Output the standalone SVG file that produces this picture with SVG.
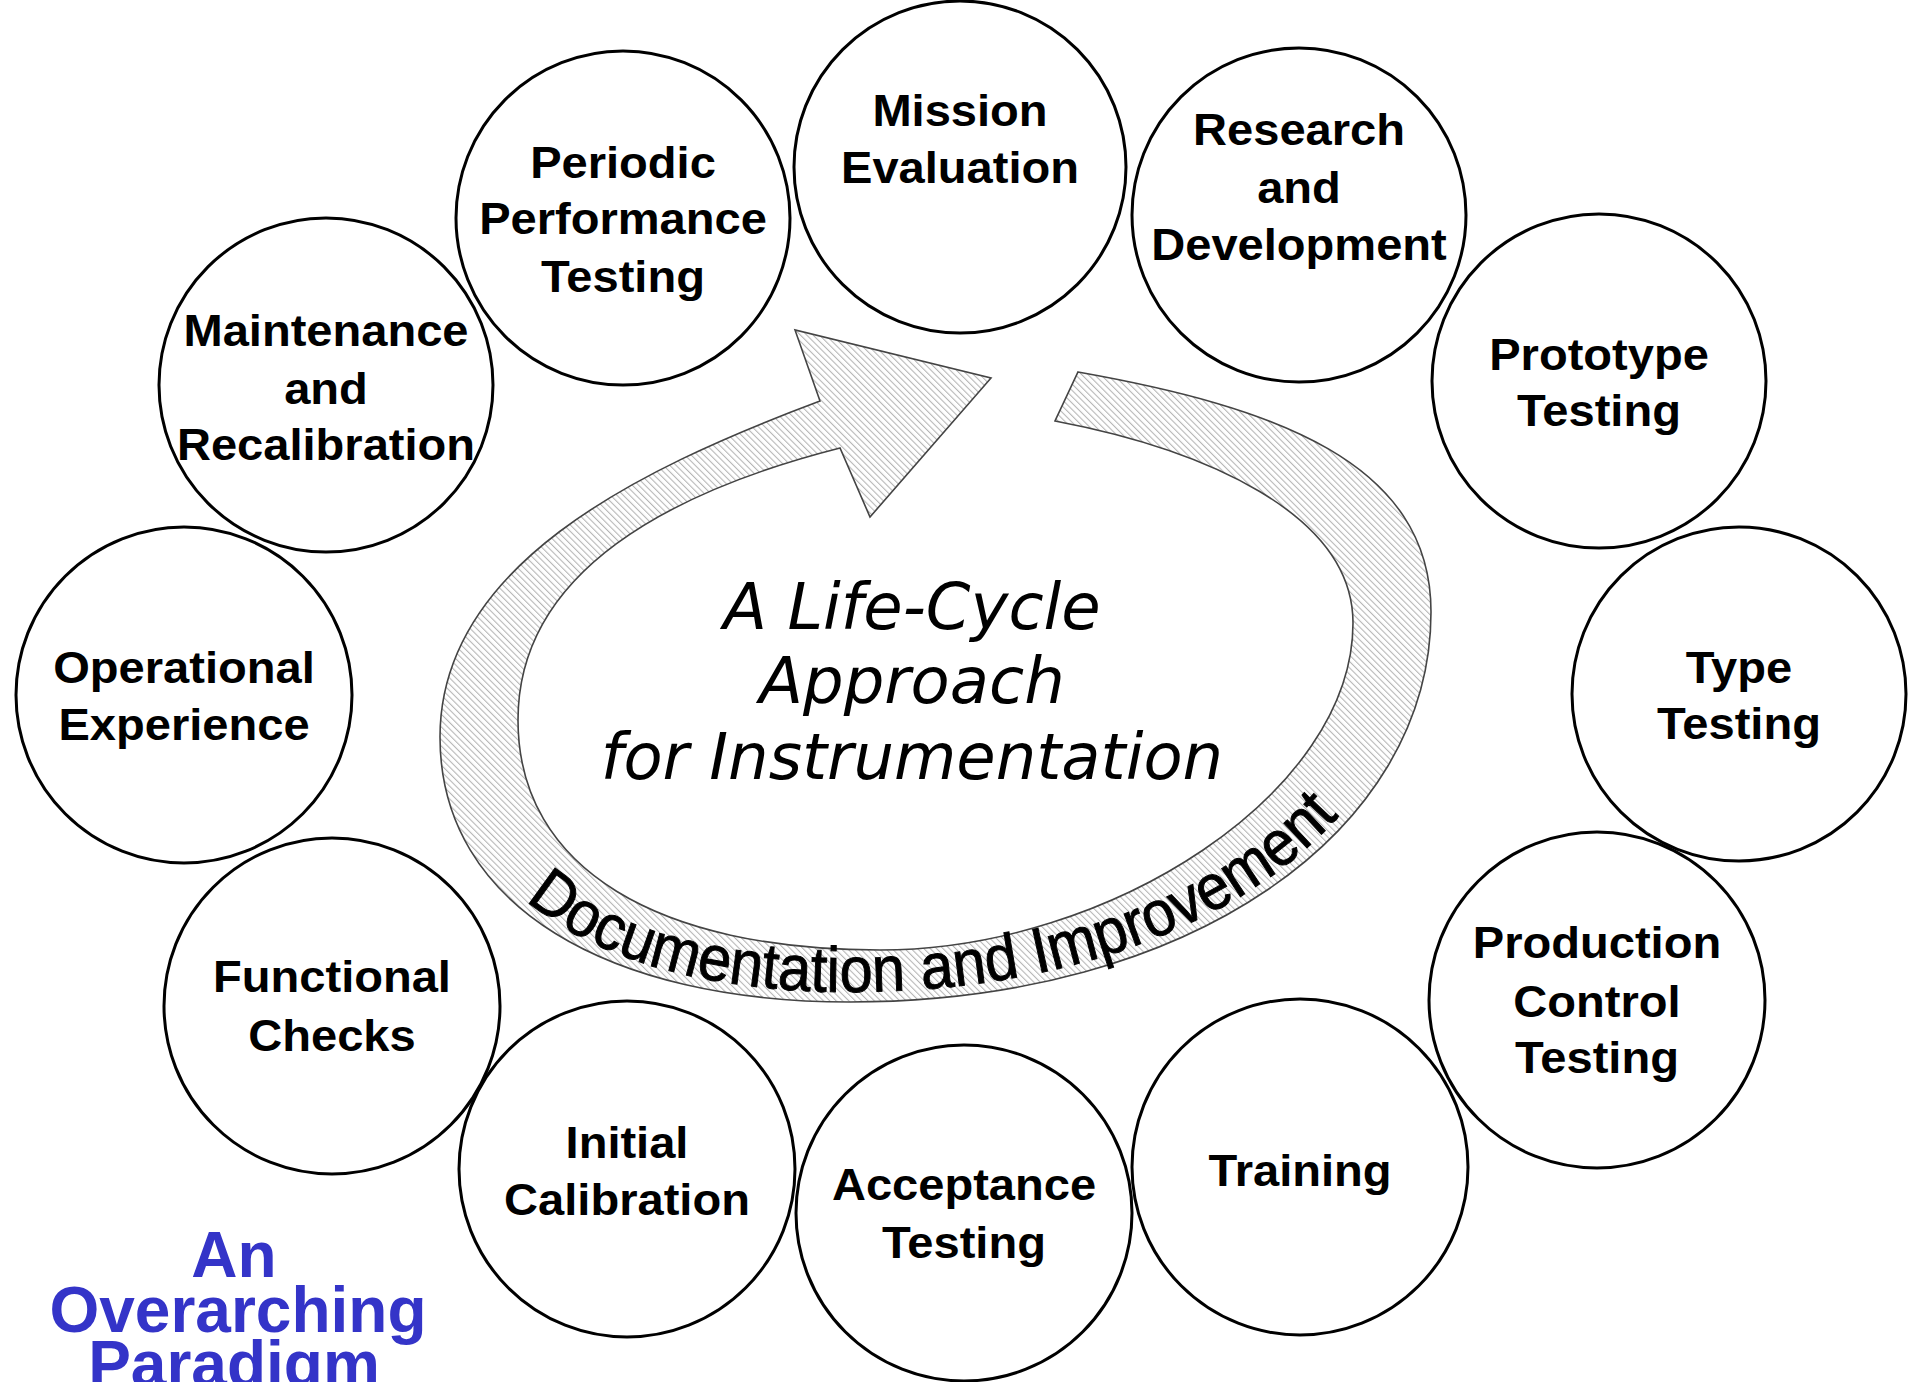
<svg xmlns="http://www.w3.org/2000/svg" width="1911" height="1382" viewBox="0 0 1911 1382">
<style>
.c{fill:none;stroke:#000;stroke-width:3}
.t{font-family:"Liberation Sans",Arial,sans-serif;font-weight:bold;font-size:44px;fill:#000;text-anchor:middle}
.mid{font-family:"DejaVu Sans",Verdana,sans-serif;font-style:italic;font-size:64px;fill:#000;text-anchor:middle}
.doc{font-family:"Liberation Sans",Arial,sans-serif;font-size:64px;fill:#000;stroke:#000;stroke-width:1}
.blue{font-family:"Liberation Sans",Arial,sans-serif;font-weight:bold;font-size:64px;fill:#3434c8;text-anchor:middle}
</style>
<defs>
<pattern id="hatch" width="4.5" height="4.5" patternUnits="userSpaceOnUse" patternTransform="rotate(-45)">
<rect width="4.5" height="4.5" fill="#fff"/>
<line x1="0.6" y1="0" x2="0.6" y2="4.5" stroke="#a8a8a8" stroke-width="0.9"/>
</pattern>
<path id="docpath" d="M450,737 C450,900 612,992 850,992 C1185,992 1421,828 1421,612"/>
</defs>
<rect width="1911" height="1382" fill="#fff"/>
<g id="connectors">
<path id="lifecycle-arrow" d="M1078,372 C1275,407 1431,462 1431,612 C1431,832 1190,1002 850,1002 C610,1002 440,907 440,737 C440,567 632.6,471 820,401 L795,330 L991,378 L870,517 L840,448 C673.4,490.5 518,570 518,720 C518,870 660,950 880,950 C1110,950 1353,793 1353,623 C1353,513 1202.3,449 1055,421 Z" fill="url(#hatch)" stroke="#444" stroke-width="1.6" stroke-linejoin="miter"/>
<text class="doc"><textPath href="#docpath" startOffset="186" textLength="878" lengthAdjust="spacingAndGlyphs">Documentation and Improvement</textPath></text>
</g>
<g id="title">
<text class="mid" x="912" y="629">A Life-Cycle</text>
<text class="mid" x="912" y="703">Approach</text>
<text class="mid" x="912" y="779">for Instrumentation</text>
</g>
<g id="node-mission"><circle class="c" cx="960" cy="167" r="166"/>
<text class="t" transform="translate(960 0) scale(1.07 1)" y="126">Mission</text>
<text class="t" transform="translate(960 0) scale(1.07 1)" y="183">Evaluation</text></g>
<g id="node-periodic"><circle class="c" cx="623" cy="218" r="167"/>
<text class="t" transform="translate(623 0) scale(1.07 1)" y="178">Periodic</text>
<text class="t" transform="translate(623 0) scale(1.07 1)" y="234">Performance</text>
<text class="t" transform="translate(623 0) scale(1.07 1)" y="292">Testing</text></g>
<g id="node-research"><circle class="c" cx="1299" cy="215" r="167"/>
<text class="t" transform="translate(1299 0) scale(1.07 1)" y="145">Research</text>
<text class="t" transform="translate(1299 0) scale(1.07 1)" y="203">and</text>
<text class="t" transform="translate(1299 0) scale(1.07 1)" y="260">Development</text></g>
<g id="node-maintenance"><circle class="c" cx="326" cy="385" r="167"/>
<text class="t" transform="translate(326 0) scale(1.07 1)" y="346">Maintenance</text>
<text class="t" transform="translate(326 0) scale(1.07 1)" y="404">and</text>
<text class="t" transform="translate(326 0) scale(1.07 1)" y="460">Recalibration</text></g>
<g id="node-prototype"><circle class="c" cx="1599" cy="381" r="167"/>
<text class="t" transform="translate(1599 0) scale(1.07 1)" y="370">Prototype</text>
<text class="t" transform="translate(1599 0) scale(1.07 1)" y="426">Testing</text></g>
<g id="node-operational"><circle class="c" cx="184" cy="695" r="168"/>
<text class="t" transform="translate(184 0) scale(1.07 1)" y="683">Operational</text>
<text class="t" transform="translate(184 0) scale(1.07 1)" y="740">Experience</text></g>
<g id="node-type"><circle class="c" cx="1739" cy="694" r="167"/>
<text class="t" transform="translate(1739 0) scale(1.07 1)" y="683">Type</text>
<text class="t" transform="translate(1739 0) scale(1.07 1)" y="739">Testing</text></g>
<g id="node-functional"><circle class="c" cx="332" cy="1006" r="168"/>
<text class="t" transform="translate(332 0) scale(1.07 1)" y="992">Functional</text>
<text class="t" transform="translate(332 0) scale(1.07 1)" y="1051">Checks</text></g>
<g id="node-production"><circle class="c" cx="1597" cy="1000" r="168"/>
<text class="t" transform="translate(1597 0) scale(1.07 1)" y="958">Production</text>
<text class="t" transform="translate(1597 0) scale(1.07 1)" y="1017">Control</text>
<text class="t" transform="translate(1597 0) scale(1.07 1)" y="1073">Testing</text></g>
<g id="node-initial"><circle class="c" cx="627" cy="1169" r="168"/>
<text class="t" transform="translate(627 0) scale(1.07 1)" y="1158">Initial</text>
<text class="t" transform="translate(627 0) scale(1.07 1)" y="1215">Calibration</text></g>
<g id="node-training"><circle class="c" cx="1300" cy="1167" r="168"/>
<text class="t" transform="translate(1300 0) scale(1.07 1)" y="1186">Training</text></g>
<g id="node-acceptance"><circle class="c" cx="964" cy="1213" r="168"/>
<text class="t" transform="translate(964 0) scale(1.07 1)" y="1200">Acceptance</text>
<text class="t" transform="translate(964 0) scale(1.07 1)" y="1258">Testing</text></g>
<g id="paradigm-label">
<text class="blue" x="234" y="1277">An</text>
<text class="blue" x="238" y="1332">Overarching</text>
<text class="blue" x="234" y="1386">Paradigm</text>
</g>
</svg>
